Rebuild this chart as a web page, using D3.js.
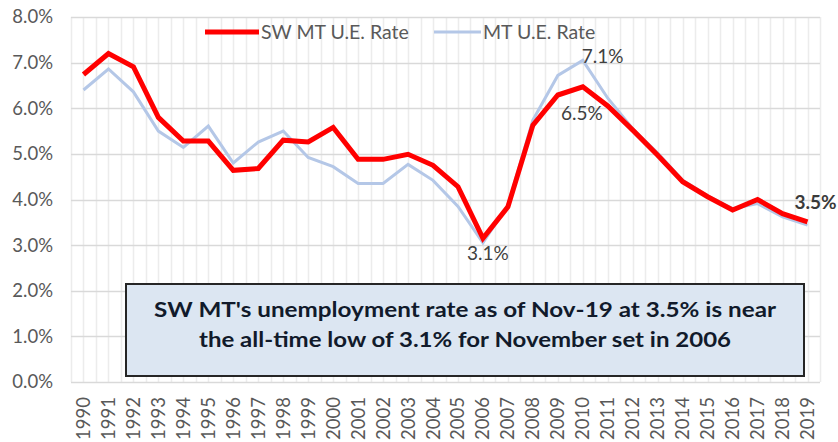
<!DOCTYPE html>
<html>
<head>
<meta charset="utf-8">
<script src="https://cdn.jsdelivr.net/npm/d3@7"></script>
<style>
	body { margin: 0; background: #fff; }
	text { font-family: Lato, "Open Sans", sans-serif; }
	.tick-label { fill: #595959; font-size: 18.5px; }
	.legend-label { fill: #595959; font-size: 19.5px; }
	.data-label { fill: #404040; font-size: 19px; }
	.data-label.last { font-weight: bold; fill: #3a3a3a; }
	.note { fill: #111a2b; font-size: 20px; font-weight: bold; }
</style>
</head>
<body>
<svg id="chart" width="838" height="442"></svg>
<script>
	//CHART DATA
	var years = ["1990", "1991", "1992", "1993", "1994", "1995", "1996", "1997", "1998", "1999",
		"2000", "2001", "2002", "2003", "2004", "2005", "2006", "2007", "2008", "2009",
		"2010", "2011", "2012", "2013", "2014", "2015", "2016", "2017", "2018", "2019"];
	var swMtRate = [6.74, 7.2, 6.91, 5.8, 5.28, 5.28, 4.64, 4.68, 5.3, 5.26,
		5.58, 4.88, 4.88, 4.99, 4.75, 4.28, 3.15, 3.84, 5.63, 6.29,
		6.47, 6.05, 5.52, 4.97, 4.39, 4.06, 3.77, 4.0, 3.69, 3.51];
	var mtRate = [6.4, 6.86, 6.36, 5.5, 5.14, 5.61, 4.8, 5.26, 5.5, 4.92,
		4.72, 4.35, 4.35, 4.77, 4.42, 3.85, 3.05, 3.88, 5.74, 6.72,
		7.05, 6.22, 5.55, 5.02, 4.42, 4.08, 3.8, 3.91, 3.62, 3.44];
	var yTicks = [0, 1, 2, 3, 4, 5, 6, 7, 8];
	var seriesNames = ["SW MT U.E. Rate", "MT U.E. Rate"];
	var dataLabels = [
		{ series: "mt", year: "2010", text: "7.1%" },
		{ series: "sw", year: "2010", text: "6.5%" },
		{ series: "mt", year: "2006", text: "3.1%" },
		{ series: "sw", year: "2019", text: "3.5%" }
	];
	var noteLines = ["SW MT's unemployment rate as of Nov-19 at 3.5% is near",
		"the all-time low of 3.1% for November set in 2006"];

	(function () {
		var svg, x, y, plot, line, series;

		plot = { left: 71, right: 820, top: 17, bottom: 382 };
		svg = d3.select("#chart");

		x = d3.scaleBand().domain(years).range([plot.left, plot.right]);
		y = d3.scaleLinear().domain([0, 8]).range([plot.bottom, plot.top]);

		series = {
			sw: { values: swMtRate, color: "#ff0000", width: 5 },
			mt: { values: mtRate, color: "#b4c7e7", width: 3 }
		};

		drawGrid();
		drawAxes();
		drawLine(series.mt);
		drawLine(series.sw);
		drawDataLabels();
		drawLegend();
		drawNote();

		function cx(year) {
			return x(year) + x.bandwidth() / 2;
		}

		function drawGrid() {
			// vertical lines on every category edge and centre
			var edges = [];
			years.forEach(function (d) {
				edges.push(x(d));
				edges.push(cx(d));
			});
			edges.push(plot.right);

			svg.append("g").selectAll("line")
				.data(edges).enter().append("line")
				.attr("x1", function (d) { return Math.round(d) + 0.5; })
				.attr("x2", function (d) { return Math.round(d) + 0.5; })
				.attr("y1", plot.top)
				.attr("y2", plot.bottom)
				.style("stroke", "#ececec")
				.style("stroke-width", 1.5);

			svg.append("g").selectAll("line")
				.data(yTicks).enter().append("line")
				.attr("x1", plot.left)
				.attr("x2", plot.right)
				.attr("y1", function (d) { return Math.round(y(d)) + 0.5; })
				.attr("y2", function (d) { return Math.round(y(d)) + 0.5; })
				.style("stroke", "#d9d9d9")
				.style("stroke-width", 1.5);
		}

		function drawAxes() {
			var yAxis = d3.axisLeft(y)
				.tickValues(yTicks)
				.tickSize(0)
				.tickPadding(0)
				.tickFormat(function (d) { return d.toFixed(1) + "%"; });

			var gy = svg.append("g")
				.attr("transform", "translate(53,0)")
				.call(yAxis);
			gy.select(".domain").remove();
			gy.selectAll("text")
				.attr("class", "tick-label")
				.attr("font-family", null)
				.attr("font-size", null)
				.attr("fill", null);

			var xAxis = d3.axisBottom(x).tickSize(0).tickPadding(0);
			var gx = svg.append("g")
				.attr("transform", "translate(0," + plot.bottom + ")")
				.call(xAxis);
			gx.select(".domain").remove();
			gx.selectAll("text")
				.attr("class", "tick-label")
				.attr("font-family", null)
				.attr("font-size", null)
				.attr("fill", null)
				.attr("transform", "rotate(-90)")
				.attr("text-anchor", "end")
				.attr("x", -15)
				.attr("y", 6.5)
				.attr("dy", null);
		}

		function drawLine(s) {
			line = d3.line()
				.x(function (d, i) { return cx(years[i]); })
				.y(function (d) { return y(d); });

			svg.append("path")
				.datum(s.values)
				.attr("d", line)
				.style("fill", "none")
				.style("stroke", s.color)
				.style("stroke-width", s.width)
				.style("stroke-linejoin", "miter");
		}

		function drawDataLabels() {
			// placement of each label relative to its point
			var offsets = [[-1, 3, "start"], [-1, 33, "middle"], [5, 17, "middle"], [8, -13, "middle"]];

			svg.append("g").selectAll("text")
				.data(dataLabels).enter().append("text")
				.attr("class", function (d, i) { return i === dataLabels.length - 1 ? "data-label last" : "data-label"; })
				.text(function (d) { return d.text; })
				.attr("x", function (d, i) { return cx(d.year) + offsets[i][0]; })
				.attr("y", function (d, i) {
					return y(series[d.series].values[years.indexOf(d.year)]) + offsets[i][1];
				})
				.attr("text-anchor", function (d, i) { return offsets[i][2]; });
		}

		function drawLegend() {
			var items = [
				{ name: seriesNames[0], s: series.sw, x: 205, len: 54 },
				{ name: seriesNames[1], s: series.mt, x: 434, len: 47 }
			];
			var g = svg.append("g").selectAll("g")
				.data(items).enter().append("g")
				.attr("class", "legend");

			g.append("line")
				.attr("x1", function (d) { return d.x; })
				.attr("x2", function (d) { return d.x + d.len; })
				.attr("y1", 32)
				.attr("y2", 32)
				.style("stroke", function (d) { return d.s.color; })
				.style("stroke-width", function (d) { return d.s.width; });

			g.append("text")
				.attr("class", "legend-label")
				.text(function (d) { return d.name; })
				.attr("x", function (d) { return d.x + d.len + 2; })
				.attr("y", 38.5);
		}

		function drawNote() {
			svg.append("rect")
				.attr("x", 126)
				.attr("y", 284)
				.attr("width", 678)
				.attr("height", 92)
				.style("fill", "#dce6f2")
				.style("stroke", "#262626")
				.style("stroke-width", 2);

			svg.append("g").selectAll("text")
				.data(noteLines).enter().append("text")
				.attr("class", "note")
				.text(function (d) { return d; })
				.attr("x", 465)
				.attr("y", function (d, i) { return 317 + 30 * i; })
				.attr("text-anchor", "middle")
				.attr("textLength", function (d, i) { return [622, 532][i]; })
				.attr("lengthAdjust", "spacingAndGlyphs");
		}
	})();
</script>
</body>
</html>
